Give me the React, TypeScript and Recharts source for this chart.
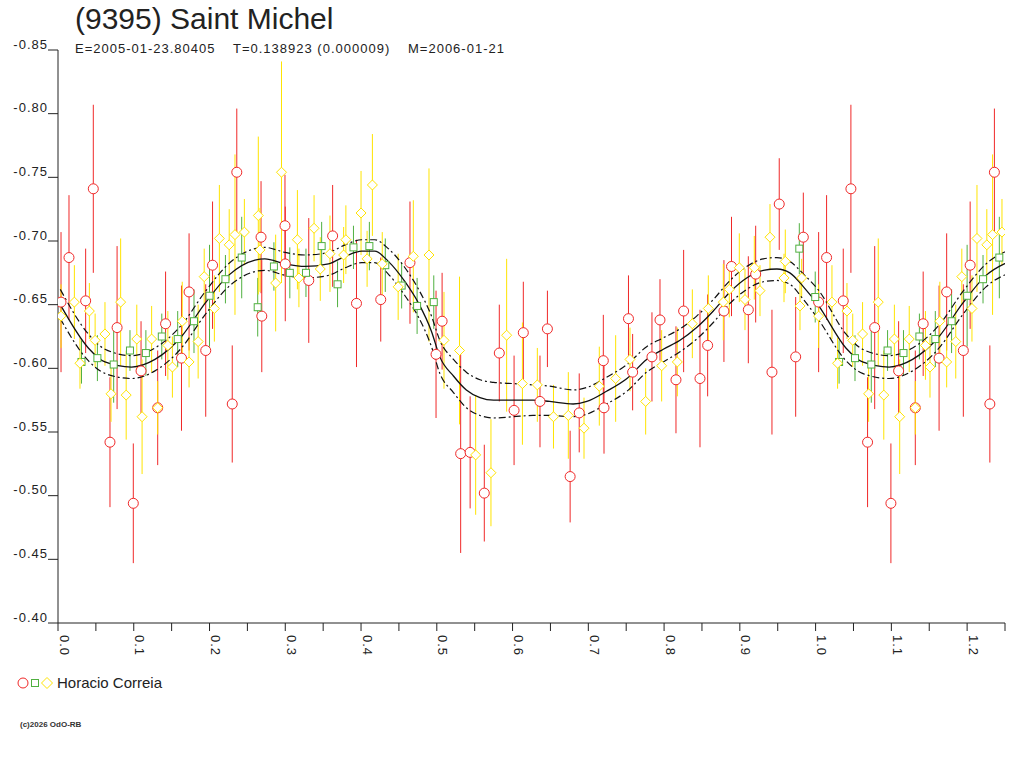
import { ComposedChart, Scatter, Line, XAxis, YAxis, ErrorBar } from "recharts";

// [phase, magnitude, error]
type Obs = [number, number, number];

const redObs: Obs[] = [
  [0.004, -0.652, 0.055], [0.0145, -0.687, 0.049], [0.0365, -0.653, 0.041],
  [0.0466, -0.741, 0.066], [0.0686, -0.542, 0.051], [0.078, -0.632, 0.064],
  [0.0994, -0.494, 0.047], [0.1096, -0.598, 0.039], [0.1316, -0.569, 0.045],
  [0.142, -0.635, 0.041], [0.163, -0.608, 0.057], [0.173, -0.66, 0.046],
  [0.195, -0.614, 0.052], [0.204, -0.681, 0.05], [0.23, -0.572, 0.046],
  [0.236, -0.754, 0.05], [0.268, -0.703, 0.044], [0.269, -0.641, 0.044],
  [0.2996, -0.712, 0.04], [0.3, -0.682, 0.045], [0.331, -0.669, 0.049],
  [0.3625, -0.704, 0.04], [0.394, -0.651, 0.05], [0.426, -0.654, 0.033],
  [0.4646, -0.683, 0.048], [0.499, -0.611, 0.05], [0.507, -0.637, 0.038],
  [0.5315, -0.533, 0.078], [0.544, -0.534, 0.044], [0.5627, -0.502, 0.038],
  [0.5825, -0.612, 0.038], [0.602, -0.567, 0.043], [0.6142, -0.628, 0.04],
  [0.6362, -0.574, 0.036], [0.646, -0.631, 0.03], [0.676, -0.515, 0.036],
  [0.688, -0.565, 0.031], [0.7198, -0.606, 0.036], [0.7207, -0.569, 0.036],
  [0.753, -0.639, 0.034], [0.7585, -0.597, 0.03], [0.784, -0.609, 0.035],
  [0.7946, -0.638, 0.032], [0.8157, -0.591, 0.042], [0.8258, -0.645, 0.048],
  [0.8474, -0.592, 0.054], [0.8575, -0.618, 0.04], [0.879, -0.645, 0.04],
  [0.889, -0.68, 0.039], [0.9112, -0.646, 0.042], [0.9209, -0.674, 0.038],
  [0.9424, -0.597, 0.049], [0.952, -0.729, 0.036], [0.9737, -0.609, 0.047],
  [0.9838, -0.703, 0.035],
];

const greenObs: Obs[] = [
  [0.031, -0.605, 0.017], [0.052, -0.608, 0.018], [0.0735, -0.603, 0.03],
  [0.095, -0.614, 0.016], [0.116, -0.612, 0.018], [0.137, -0.625, 0.018],
  [0.158, -0.623, 0.022], [0.1795, -0.637, 0.025], [0.2, -0.657, 0.04],
  [0.221, -0.67, 0.019], [0.2425, -0.687, 0.032], [0.2636, -0.648, 0.023],
  [0.285, -0.68, 0.019], [0.306, -0.675, 0.02], [0.3273, -0.675, 0.019],
  [0.348, -0.696, 0.019], [0.369, -0.666, 0.018], [0.39, -0.695, 0.017],
  [0.411, -0.696, 0.019], [0.432, -0.681, 0.021], [0.4536, -0.665, 0.018],
  [0.474, -0.649, 0.022], [0.496, -0.652, 0.021], [0.9785, -0.694, 0.02],
  [0.9995, -0.656, 0.02],
];

const yellowObs: Obs[] = [
  [0.004, -0.641, 0.025], [0.0216, -0.652, 0.029], [0.029, -0.604, 0.02],
  [0.0414, -0.645, 0.022], [0.049, -0.622, 0.021], [0.062, -0.627, 0.025],
  [0.07, -0.58, 0.022], [0.0827, -0.652, 0.05], [0.09, -0.579, 0.035],
  [0.104, -0.623, 0.027], [0.111, -0.562, 0.045], [0.1236, -0.623, 0.026],
  [0.1316, -0.569, 0.021], [0.145, -0.618, 0.027], [0.151, -0.601, 0.024],
  [0.164, -0.637, 0.031], [0.173, -0.605, 0.02], [0.185, -0.621, 0.029],
  [0.193, -0.672, 0.022], [0.2064, -0.647, 0.026], [0.213, -0.702, 0.042],
  [0.226, -0.697, 0.028], [0.2336, -0.705, 0.063], [0.246, -0.707, 0.026],
  [0.2644, -0.72, 0.062], [0.2666, -0.693, 0.033], [0.2873, -0.667, 0.038],
  [0.295, -0.754, 0.087], [0.316, -0.701, 0.039], [0.318, -0.671, 0.023],
  [0.338, -0.71, 0.026], [0.3462, -0.678, 0.025], [0.359, -0.69, 0.03],
  [0.377, -0.689, 0.022], [0.38, -0.701, 0.027], [0.4, -0.722, 0.033],
  [0.408, -0.686, 0.022], [0.415, -0.744, 0.04], [0.428, -0.682, 0.025],
  [0.449, -0.664, 0.026], [0.469, -0.688, 0.044], [0.4897, -0.689, 0.068],
  [0.5095, -0.622, 0.038], [0.53, -0.614, 0.058], [0.5513, -0.532, 0.047],
  [0.5715, -0.518, 0.042], [0.5922, -0.626, 0.06], [0.613, -0.588, 0.048],
  [0.6327, -0.587, 0.029], [0.654, -0.562, 0.025], [0.6736, -0.563, 0.034],
  [0.6943, -0.553, 0.024], [0.7145, -0.586, 0.031], [0.7361, -0.592, 0.034],
  [0.755, -0.607, 0.025], [0.7757, -0.574, 0.026], [0.7968, -0.602, 0.028],
  [0.8175, -0.605, 0.027], [0.8373, -0.635, 0.027], [0.8584, -0.647, 0.026],
  [0.8782, -0.652, 0.03], [0.8861, -0.662, 0.022], [0.8993, -0.679, 0.027],
  [0.9068, -0.654, 0.024], [0.9191, -0.679, 0.025], [0.9266, -0.661, 0.02],
  [0.9398, -0.703, 0.026], [0.9583, -0.671, 0.019], [0.96, -0.684, 0.025],
  [0.9794, -0.649, 0.019], [0.9816, -0.671, 0.015],
];

// [phase, fit, upper band, lower band]
const fitCurve: [number, number, number, number][] = [
  [0.003, -0.65, -0.662, -0.639], [0.04, -0.616, -0.627, -0.606],
  [0.062, -0.605, -0.615, -0.596], [0.097, -0.601, -0.61, -0.592],
  [0.128, -0.607, -0.616, -0.598], [0.163, -0.625, -0.634, -0.616],
  [0.194, -0.651, -0.66, -0.642], [0.225, -0.673, -0.682, -0.664],
  [0.26, -0.685, -0.694, -0.676], [0.273, -0.686, -0.695, -0.677],
  [0.3, -0.682, -0.691, -0.673], [0.326, -0.68, -0.689, -0.671],
  [0.357, -0.682, -0.691, -0.673], [0.379, -0.688, -0.697, -0.679],
  [0.401, -0.692, -0.701, -0.683], [0.418, -0.692, -0.701, -0.683],
  [0.436, -0.684, -0.694, -0.674], [0.458, -0.668, -0.679, -0.657],
  [0.476, -0.651, -0.662, -0.64], [0.493, -0.629, -0.641, -0.617],
  [0.504, -0.609, -0.622, -0.596], [0.522, -0.594, -0.607, -0.581],
  [0.539, -0.583, -0.597, -0.569], [0.557, -0.577, -0.591, -0.563],
  [0.575, -0.575, -0.589, -0.561], [0.601, -0.575, -0.588, -0.562],
  [0.627, -0.575, -0.587, -0.563], [0.649, -0.574, -0.586, -0.563],
  [0.68, -0.572, -0.583, -0.562], [0.698, -0.574, -0.585, -0.564],
  [0.724, -0.582, -0.593, -0.572], [0.751, -0.592, -0.603, -0.582],
  [0.777, -0.607, -0.617, -0.597], [0.799, -0.615, -0.624, -0.605],
  [0.821, -0.622, -0.631, -0.613], [0.843, -0.632, -0.641, -0.623],
  [0.865, -0.645, -0.654, -0.636], [0.887, -0.66, -0.669, -0.651],
  [0.909, -0.671, -0.68, -0.662], [0.931, -0.677, -0.686, -0.668],
  [0.949, -0.678, -0.687, -0.669], [0.966, -0.675, -0.684, -0.666],
  [0.984, -0.664, -0.674, -0.654],
];

const xTicks = [
  0, 0.05, 0.1, 0.15, 0.2, 0.25, 0.3, 0.35, 0.4, 0.45, 0.5, 0.55, 0.6,
  0.65, 0.7, 0.75, 0.8, 0.85, 0.9, 0.95, 1.0, 1.05, 1.1, 1.15, 1.2, 1.25,
];
const yTicks = [-0.85, -0.8, -0.75, -0.7, -0.65, -0.6, -0.55, -0.5, -0.45, -0.4];

const RED = "#f02828";
const GREEN = "#50b040";
const YELLOW = "#ffe400";
const INK = "#222";
const FONT = "'Liberation Sans', Arial, sans-serif";

// the first quarter of the phase is shown again after 1.0
const toPoints = (obs: Obs[]) => {
  const pts = obs.map(([phase, mag, err]) => ({ phase, mag, err }));
  const wrap = pts.filter((p) => p.phase < 0.25).map((p) => ({ ...p, phase: p.phase + 1 }));
  return [...pts, ...wrap];
};

const fitPts = (() => {
  const pts = fitCurve.map(([phase, mid, hi, lo]) => ({ phase, mid, hi, lo }));
  const wrap = pts.filter((p) => p.phase <= 0.26).map((p) => ({ ...p, phase: p.phase + 1 }));
  return [...pts, ...wrap];
})();

const redPts = toPoints(redObs);
const greenPts = toPoints(greenObs);
const yellowPts = toPoints(yellowObs);

const Circle = ({ cx, cy }: any) => (
  <circle cx={cx} cy={cy} r={5} fill="#fff" stroke={RED} strokeWidth={1} />
);
const Square = ({ cx, cy }: any) => (
  <rect x={cx - 3.5} y={cy - 3.5} width={7} height={7} fill="#fff" stroke={GREEN} strokeWidth={1} />
);
const Diamond = ({ cx, cy }: any) => (
  <path
    d={`M${cx},${cy - 5}L${cx + 5},${cy}L${cx},${cy + 5}L${cx - 5},${cy}Z`}
    fill="#fff"
    stroke={YELLOW}
    strokeWidth={1}
  />
);

const XTick = ({ x, y, payload }: any) => {
  const v = payload.value;
  if (Math.round(v * 100) % 10 !== 0) return <g />;
  return (
    <text
      transform={`translate(${x + 1.5},${y + 2}) rotate(90)`}
      fontSize={13}
      letterSpacing={1}
      fontFamily={FONT}
      fill={INK}
    >
      {v.toFixed(1)}
    </text>
  );
};

const YTick = ({ x, y, payload }: any) => (
  <text
    x={x + 2}
    y={y - 1.5}
    textAnchor="end"
    fontSize={13}
    letterSpacing={1}
    fontFamily={FONT}
    fill={INK}
  >
    {payload.value.toFixed(2)}
  </text>
);

export default function App() {
  return (
    <div
      style={{
        position: "absolute",
        left: 0,
        top: 0,
        width: 1024,
        height: 768,
        background: "#fff",
        fontFamily: FONT,
        color: INK,
      }}
    >
      <ComposedChart width={1024} height={700} margin={{ top: 50, right: 19, bottom: 37, left: 0 }}>
        <XAxis
          type="number"
          dataKey="phase"
          domain={[0, 1.25]}
          ticks={xTicks}
          interval={0}
          allowDataOverflow
          height={40}
          tickSize={8}
          stroke={INK}
          tick={<XTick />}
        />
        <YAxis
          type="number"
          domain={[-0.85, -0.4]}
          ticks={yTicks}
          interval={0}
          reversed
          allowDataOverflow
          width={58}
          tickSize={10}
          stroke={INK}
          tick={<YTick />}
        />

        <Scatter data={redPts} dataKey="mag" shape={<Circle />} isAnimationActive={false}>
          <ErrorBar dataKey="err" direction="y" width={0} stroke={RED} strokeWidth={1} />
        </Scatter>
        <Scatter data={greenPts} dataKey="mag" shape={<Square />} isAnimationActive={false}>
          <ErrorBar dataKey="err" direction="y" width={0} stroke={GREEN} strokeWidth={1} />
        </Scatter>
        <Scatter data={yellowPts} dataKey="mag" shape={<Diamond />} isAnimationActive={false}>
          <ErrorBar dataKey="err" direction="y" width={0} stroke={YELLOW} strokeWidth={1} />
        </Scatter>

        <Line data={fitPts} dataKey="hi" type="monotone" stroke="#111" strokeWidth={1.2}
          strokeDasharray="7 3 2 3" dot={false} activeDot={false} isAnimationActive={false} />
        <Line data={fitPts} dataKey="lo" type="monotone" stroke="#111" strokeWidth={1.2}
          strokeDasharray="7 3 2 3" dot={false} activeDot={false} isAnimationActive={false} />
        <Line data={fitPts} dataKey="mid" type="monotone" stroke="#111" strokeWidth={1.3}
          dot={false} activeDot={false} isAnimationActive={false} />
      </ComposedChart>

      <div style={{ position: "absolute", left: 75, top: 2, fontSize: 30, lineHeight: "34px" }}>
        (9395) Saint Michel
      </div>
      <div style={{ position: "absolute", top: 41, fontSize: 13, letterSpacing: 1, lineHeight: "16px", whiteSpace: "nowrap" }}>
        <span style={{ position: "absolute", left: 75 }}>E=2005-01-23.80405</span>
        <span style={{ position: "absolute", left: 233 }}>T=0.138923 (0.000009)</span>
        <span style={{ position: "absolute", left: 408 }}>M=2006-01-21</span>
      </div>

      <div style={{ position: "absolute", left: 17, top: 674, display: "flex", alignItems: "center" }}>
        <svg width={40} height={16}>
          <circle cx={6} cy={8} r={5} fill="#fff" stroke={RED} />
          <rect x={14.5} y={4.5} width={7} height={7} fill="#fff" stroke={GREEN} />
          <path d="M30,2.5L35.5,8L30,13.5L24.5,8Z" fill="#fff" stroke={YELLOW} />
        </svg>
        <span style={{ fontSize: 15, marginLeft: 0 }}>Horacio Correia</span>
      </div>

      <div style={{ position: "absolute", left: 20, top: 720, fontSize: 8, fontWeight: "bold", color: "#333" }}>
        (c)2026 OdO-RB
      </div>
    </div>
  );
}
